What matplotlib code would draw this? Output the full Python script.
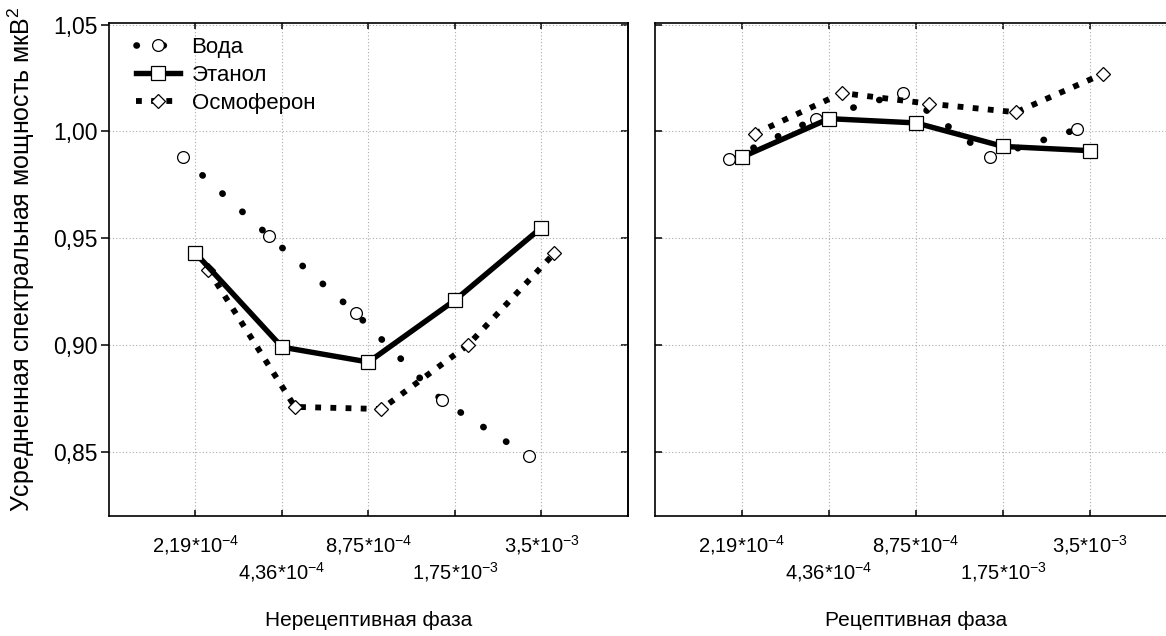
import matplotlib
matplotlib.use("Agg")
import matplotlib.pyplot as plt

plt.rcParams["font.family"] = ["Liberation Sans", "DejaVu Sans"]
plt.rcParams["mathtext.fontset"] = "custom"
plt.rcParams["mathtext.rm"] = "Liberation Sans"
plt.rcParams["mathtext.it"] = "Liberation Sans"
plt.rcParams["mathtext.default"] = "rm"

# concentrations (category axis)
concentrations = [
    "2,19*10$^{-4}$",
    "4,36*10$^{-4}$",
    "8,75*10$^{-4}$",
    "1,75*10$^{-3}$",
    "3,5*10$^{-3}$",
]
series_names = ["Вода", "Этанол", "Осмоферон"]

# Нерецептивная фаза
nonrec_water = [0.988, 0.951, 0.915, 0.874, 0.848]
nonrec_ethanol = [0.943, 0.899, 0.892, 0.921, 0.955]
nonrec_osmo = [0.935, 0.871, 0.870, 0.900, 0.943]

# Рецептивная фаза
rec_water = [0.987, 1.006, 1.018, 0.988, 1.001]
rec_ethanol = [0.988, 1.006, 1.004, 0.993, 0.991]
rec_osmo = [0.999, 1.018, 1.013, 1.009, 1.027]

y_ticks = [0.85, 0.90, 0.95, 1.00, 1.05]
y_ticklabels = ["0,85", "0,90", "0,95", "1,00", "1,05"]

panel_titles = ["Нерецептивная фаза", "Рецептивная фаза"]
ylabel = "Усредненная спектральная мощность мкВ$^{2}$"


def draw_panel(ax, water, ethanol, osmo, show_ylabels):
    pos = list(range(1, len(concentrations) + 1))
    ax.plot([p - 0.15 for p in pos], water,
            color="black", lw=4.8, linestyle=(0, (0.05, 4.0)),
            dash_capstyle="round", marker="o", ms=8.5, mfc="white",
            mec="black", mew=0.9, label=series_names[0], zorder=3)
    ax.plot(pos, ethanol, color="black", lw=3.9, marker="s", ms=10.5,
            mfc="white", mec="black", mew=0.9, label=series_names[1], zorder=4)
    ax.plot([p + 0.15 for p in pos], osmo, color="black", lw=4.2,
            linestyle=(0, (1.0, 1.6)), dash_capstyle="butt", marker="D",
            ms=7.5, mfc="white", mec="black", mew=0.9,
            label=series_names[2], zorder=3)

    ax.set_xlim(0, 6)
    ax.set_ylim(0.8199, 1.0508)
    ax.set_xticks(pos)
    ax.set_xticklabels(concentrations, fontsize=14.5)
    for i, t in enumerate(ax.xaxis.get_major_ticks()):
        t.set_pad(12 if i % 2 == 0 else 32)
    ax.set_yticks(y_ticks)
    ax.grid(True, color="#aaaaaa", linestyle=(0, (1, 2)), lw=0.8)
    ax.tick_params(axis="x", direction="in", length=4, width=1.1,
                   top=True, colors="black")
    for s in ax.spines.values():
        s.set_linewidth(1.2)
    if show_ylabels:
        ax.set_yticklabels(y_ticklabels, fontsize=16.5)
        ax.tick_params(axis="y", direction="out", length=6, width=1.1, pad=2)
        sec = ax.secondary_yaxis("right")
        sec.set_yticks(y_ticks)
        sec.tick_params(direction="in", length=5, width=1.1, labelright=False)
        sec.spines["right"].set_linewidth(1.2)
    else:
        ax.set_yticklabels([])
        ax.tick_params(axis="y", direction="in", length=5, width=1.1)


fig = plt.figure(figsize=(11.66, 6.36), dpi=100)
ax1 = fig.add_axes([109 / 1166, 1 - 516 / 636, 519 / 1166, 493 / 636])
ax2 = fig.add_axes([655 / 1166, 1 - 516 / 636, 522 / 1166, 493 / 636])

draw_panel(ax1, nonrec_water, nonrec_ethanol, nonrec_osmo, True)
draw_panel(ax2, rec_water, rec_ethanol, rec_osmo, False)

for ax, title in zip([ax1, ax2], panel_titles):
    ax.text(0.5, -0.211, title, transform=ax.transAxes, ha="center",
            va="center", fontsize=15)

fig.text(21 / 1166, 1 - 259 / 636, ylabel, rotation=90, ha="center",
         va="center", fontsize=18)

ax1.legend(loc="upper left", bbox_to_anchor=(0.035, 0.99), frameon=False,
           fontsize=16, handlelength=2.0, handletextpad=0.5, numpoints=1,
           borderaxespad=0, labelspacing=0.32)

fig.savefig("out.png", dpi=100)
